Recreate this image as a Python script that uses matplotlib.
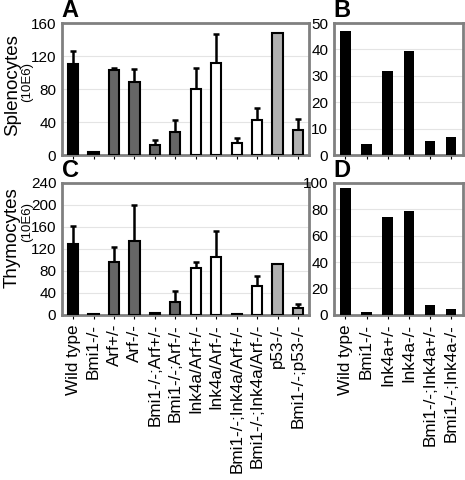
import numpy as np
import matplotlib.pyplot as plt

plt.rcParams['font.family'] = ['Liberation Sans', 'DejaVu Sans']

genotypes = ["Wild type", "Bmi1-/-", "Arf+/-", "Arf-/-", "Bmi1-/-;Arf+/-", "Bmi1-/-;Arf-/-",
             "Ink4a/Arf+/-", "Ink4a/Arf-/-", "Bmi1-/-;Ink4a/Arf+/-", "Bmi1-/-;Ink4a/Arf-/-",
             "p53-/-", "Bmi1-/-;p53-/-"]
colors = ["black", "black", "#666666", "#666666", "#666666", "#666666",
          "white", "white", "white", "white", "#b0b0b0", "#b0b0b0"]

spleno = [110, 4, 103, 88, 12.5, 28, 80, 112, 14, 42, 148, 30]
spleno_err = [16, 0, 3, 16, 5.5, 15, 26, 35, 6.5, 15, 0, 14]
thymo = [128, 1.5, 96, 135, 3, 24, 86, 106, 2.5, 53, 92, 12]
thymo_err = [33, 0, 28, 65, 1, 19, 11, 47, 0, 17, 0, 7]

ink_genotypes = ["Wild type", "Bmi1-/-", "Ink4a+/-", "Ink4a-/-", "Bmi1-/-;Ink4a+/-", "Bmi1-/-;Ink4a-/-"]
ink_spleno = [47, 4, 31.8, 39.3, 5.3, 7]
ink_thymo = [96, 2.3, 74.5, 78.5, 7.5, 4.3]

fig = plt.figure(figsize=(4.65, 4.8), dpi=100)
axA = fig.add_axes([0.133, 0.677, 0.532, 0.275])
axC = fig.add_axes([0.133, 0.344, 0.532, 0.275])
axB = fig.add_axes([0.718, 0.677, 0.277, 0.275])
axD = fig.add_axes([0.718, 0.344, 0.277, 0.275])


def style(ax, ymax, step):
    ax.set_ylim(0, ymax)
    ax.set_yticks(np.arange(0, ymax + 1, step))
    ax.grid(axis='y', color='#e4e4e4', linewidth=0.8)
    ax.set_axisbelow(True)
    for s in ax.spines.values():
        s.set_color('#808080')
        s.set_linewidth(2)
    ax.tick_params(axis='y', labelsize=11, length=0, pad=4)
    ax.tick_params(axis='x', labelsize=12.3, length=3, color='black')


x = np.arange(len(genotypes))
for ax, vals, errs, ymax, step in [(axA, spleno, spleno_err, 160, 40), (axC, thymo, thymo_err, 240, 40)]:
    ax.bar(x, vals, width=0.5, color=colors, edgecolor='black', linewidth=1.5, zorder=3)
    ax.errorbar(x, vals, yerr=[np.zeros(len(errs)), errs], fmt='none', ecolor='black',
                elinewidth=1.8, capsize=2, capthick=1.8, zorder=2)
    ax.set_xlim(-0.55, len(genotypes) - 0.45)
    style(ax, ymax, step)
    ax.set_xticks(x)
axA.set_xticklabels([])
axC.set_xticklabels(genotypes, rotation=90)

x2 = np.arange(len(ink_genotypes))
for ax, vals, ymax, step in [(axB, ink_spleno, 50, 10), (axD, ink_thymo, 100, 20)]:
    ax.bar(x2, vals, width=0.5, color='black', zorder=3)
    ax.set_xlim(-0.55, len(ink_genotypes) - 0.45)
    style(ax, ymax, step)
    ax.set_xticks(x2)
axB.set_xticklabels([])
axD.set_xticklabels(ink_genotypes, rotation=90)

for ax, letter in [(axA, "A"), (axB, "B"), (axC, "C"), (axD, "D")]:
    ax.text(0.0, 1.005, letter, transform=ax.transAxes, fontsize=17, fontweight='bold',
            ha='left', va='bottom')

fig.text(0.027, 0.823, "Splenocytes", rotation=90, fontsize=13.5, ha='center', va='center')
fig.text(0.058, 0.83, "(10E6)", rotation=90, fontsize=9.5, ha='center', va='center')
fig.text(0.027, 0.504, "Thymocytes", rotation=90, fontsize=13.5, ha='center', va='center')
fig.text(0.058, 0.537, "(10E6)", rotation=90, fontsize=9.5, ha='center', va='center')

fig.savefig("out.png", dpi=100)
